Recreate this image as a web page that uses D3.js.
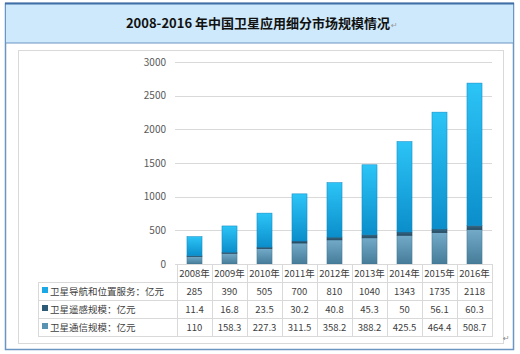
<!DOCTYPE html>
<html>
<head>
<meta charset="utf-8">
<script src="https://cdn.jsdelivr.net/npm/d3@7"></script>
<style>
  body { margin: 0; background: #fff; }
  svg text { font-family: "Noto Sans CJK SC", "DejaVu Sans", sans-serif; }
</style>
</head>
<body>
<div id="chart"></div>
<script>
// data
var years = ["2008年", "2009年", "2010年", "2011年", "2012年", "2013年", "2014年", "2015年", "2016年"];
var navValues = [285, 390, 505, 700, 810, 1040, 1343, 1735, 2118];
var senseValues = [11.4, 16.8, 23.5, 30.2, 40.8, 45.3, 50, 56.1, 60.3];
var commValues = [110, 158.3, 227.3, 311.5, 358.2, 388.2, 425.5, 464.4, 508.7];
var seriesNames = ["卫星导航和位置服务：亿元", "卫星遥感规模：亿元", "卫星通信规模：亿元"];
var yTicks = [0, 500, 1000, 1500, 2000, 2500, 3000];

var W = 520, H = 354;
var svg = d3.select("#chart").append("svg")
    .attr("width", W).attr("height", H);

var defs = svg.append("defs");
function grad(id, top, bottom) {
    var g = defs.append("linearGradient").attr("id", id)
        .attr("x1", 0).attr("y1", 0).attr("x2", 0).attr("y2", 1);
    g.append("stop").attr("offset", "0%").attr("stop-color", top);
    g.append("stop").attr("offset", "100%").attr("stop-color", bottom);
}
grad("gNav", "#2cc4f7", "#0b8ecb");
grad("gComm", "#72aac8", "#467c98");
grad("gSense", "#3a6a86", "#244c64");

// outer frame + title band
svg.append("rect").attr("x", 5.5).attr("y", 3.5).attr("width", 508).attr("height", 346)
    .attr("fill", "#fff").attr("stroke", "#6b95c2").attr("stroke-width", 1.5);
svg.append("rect").attr("x", 5.5).attr("y", 3.5).attr("width", 508).attr("height", 39.5)
    .attr("fill", "#cde9fb").attr("stroke", "#6b95c2").attr("stroke-width", 1);
svg.append("line").attr("x1", 5).attr("x2", 514).attr("y1", 3.5).attr("y2", 3.5)
    .attr("stroke", "#3f6fa6").attr("stroke-width", 2);
var title = svg.append("text").attr("x", 258).attr("y", 28)
    .attr("text-anchor", "middle").attr("font-size", 13).attr("font-weight", "bold")
    .attr("fill", "#111").text("2008-2016 年中国卫星应用细分市场规模情况");
var tw = title.node().getComputedTextLength();
svg.append("text").attr("x", 258 + tw / 2 + 1).attr("y", 28).attr("font-size", 8)
    .attr("fill", "#999").text("↵");

// inner chart area
svg.append("rect").attr("x", 18.5).attr("y", 50.5).attr("width", 485).attr("height", 293)
    .attr("fill", "#fff").attr("stroke", "#d9d9d9");

var x = d3.scaleBand().domain(years).range([177, 492]).paddingInner(0.57).paddingOuter(0.285);
var y = d3.scaleLinear().domain([0, 3000]).range([264, 62]);

// gridlines
svg.append("g").selectAll("line").data(yTicks).enter().append("line")
    .attr("x1", 175).attr("x2", 492)
    .attr("y1", function(d) { return Math.round(y(d)) + 0.5; })
    .attr("y2", function(d) { return Math.round(y(d)) + 0.5; })
    .attr("stroke", "#d9d9d9");

// y axis labels
var yAxis = d3.axisLeft(y).tickValues(yTicks).tickFormat(d3.format("d")).tickSize(0).tickPadding(0);
var ya = svg.append("g").attr("transform", "translate(166,0)").call(yAxis);
ya.select(".domain").remove();
ya.selectAll("text").attr("font-size", 10).attr("fill", "#595959")
    .style("font-family", "'Noto Sans CJK SC', sans-serif");

// stacked bars
var rows = years.map(function(yr, i) {
    return { year: yr, comm: commValues[i], sense: senseValues[i], nav: navValues[i] };
});
var stack = d3.stack().keys(["comm", "sense", "nav"]);
var fills = { comm: "url(#gComm)", sense: "url(#gSense)", nav: "url(#gNav)" };
var strokes = { comm: "#3f7390", sense: "#20435a", nav: "#0c86bf" };

svg.append("g").selectAll("g").data(stack(rows)).enter().append("g")
    .each(function(layer) {
        d3.select(this).selectAll("rect").data(layer).enter().append("rect")
            .attr("x", function(d) { return x(d.data.year); })
            .attr("width", x.bandwidth())
            .attr("y", function(d) { return y(d[1]); })
            .attr("height", function(d) { return y(d[0]) - y(d[1]); })
            .attr("fill", fills[layer.key])
            .attr("stroke", strokes[layer.key])
            .attr("stroke-width", 0.5);
    });

// data table
var colW = x.step(), x0 = 177;
var rowTops = [264, 282, 300, 318, 336];
var tableLeft = 38;
var grid = svg.append("g").attr("stroke", "#d9d9d9").attr("fill", "none");
grid.append("rect").attr("x", x0 + 0.5).attr("y", rowTops[0] + 0.5)
    .attr("width", 315).attr("height", rowTops[1] - rowTops[0]);
grid.append("rect").attr("x", tableLeft + 0.5).attr("y", rowTops[1] + 0.5)
    .attr("width", 492 - tableLeft).attr("height", rowTops[4] - rowTops[1]);
[rowTops[2], rowTops[3]].forEach(function(ry) {
    grid.append("line").attr("x1", tableLeft).attr("x2", 492)
        .attr("y1", ry + 0.5).attr("y2", ry + 0.5);
});
years.forEach(function(yr, i) {
    if (i === 0) return;
    grid.append("line").attr("x1", x0 + i * colW + 0.5).attr("x2", x0 + i * colW + 0.5)
        .attr("y1", rowTops[0]).attr("y2", rowTops[4]);
});
grid.append("line").attr("x1", x0 + 0.5).attr("x2", x0 + 0.5)
    .attr("y1", rowTops[1]).attr("y2", rowTops[4]);

var tbl = svg.append("g").attr("font-size", 9.5).attr("fill", "#404040");
years.forEach(function(yr, i) {
    tbl.append("text").attr("x", x(yr) + x.bandwidth() / 2).attr("y", rowTops[0] + 13)
        .attr("text-anchor", "middle").text(yr);
});
var tableSeries = [navValues, senseValues, commValues];
var keyColors = ["#1aa8e6", "#2d5a76", "#5a92b2"];
tableSeries.forEach(function(vals, r) {
    var ty = rowTops[r + 1] + 13;
    tbl.append("rect").attr("x", 42).attr("y", ty - 8).attr("width", 6).attr("height", 6)
        .attr("fill", keyColors[r]);
    tbl.append("text").attr("x", 50).attr("y", ty).text(seriesNames[r]);
    vals.forEach(function(v, i) {
        tbl.append("text").attr("x", x(years[i]) + x.bandwidth() / 2).attr("y", ty)
            .attr("text-anchor", "middle").text(v);
    });
});

svg.append("text").attr("x", 503).attr("y", 341).attr("font-size", 8)
    .attr("fill", "#888").text("↵");
</script>
</body>
</html>
